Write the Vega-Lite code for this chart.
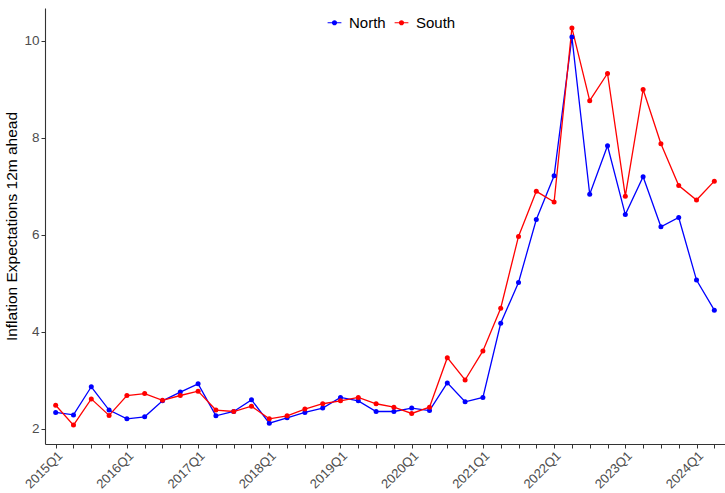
{
  "$schema": "https://vega.github.io/schema/vega-lite/v6.json",
  "autosize": {"type": "none"},
  "width": 680,
  "height": 436,
  "padding": {"left": 45, "top": 8, "right": 0, "bottom": 49},
  "background": "white",
  "config": {
    "view": {"stroke": null},
    "font": "Liberation Sans"
  },
  "data": {
    "values": [
      {"q": "2015Q1", "region": "North", "value": 2.34}, {"q": "2015Q1", "region": "South", "value": 2.49},
      {"q": "2015Q2", "region": "North", "value": 2.29}, {"q": "2015Q2", "region": "South", "value": 2.08},
      {"q": "2015Q3", "region": "North", "value": 2.87}, {"q": "2015Q3", "region": "South", "value": 2.62},
      {"q": "2015Q4", "region": "North", "value": 2.39}, {"q": "2015Q4", "region": "South", "value": 2.28},
      {"q": "2016Q1", "region": "North", "value": 2.21}, {"q": "2016Q1", "region": "South", "value": 2.69},
      {"q": "2016Q2", "region": "North", "value": 2.25}, {"q": "2016Q2", "region": "South", "value": 2.73},
      {"q": "2016Q3", "region": "North", "value": 2.58}, {"q": "2016Q3", "region": "South", "value": 2.59},
      {"q": "2016Q4", "region": "North", "value": 2.76}, {"q": "2016Q4", "region": "South", "value": 2.69},
      {"q": "2017Q1", "region": "North", "value": 2.93}, {"q": "2017Q1", "region": "South", "value": 2.78},
      {"q": "2017Q2", "region": "North", "value": 2.27}, {"q": "2017Q2", "region": "South", "value": 2.39},
      {"q": "2017Q3", "region": "North", "value": 2.36}, {"q": "2017Q3", "region": "South", "value": 2.36},
      {"q": "2017Q4", "region": "North", "value": 2.60}, {"q": "2017Q4", "region": "South", "value": 2.47},
      {"q": "2018Q1", "region": "North", "value": 2.12}, {"q": "2018Q1", "region": "South", "value": 2.21},
      {"q": "2018Q2", "region": "North", "value": 2.23}, {"q": "2018Q2", "region": "South", "value": 2.27},
      {"q": "2018Q3", "region": "North", "value": 2.34}, {"q": "2018Q3", "region": "South", "value": 2.41},
      {"q": "2018Q4", "region": "North", "value": 2.43}, {"q": "2018Q4", "region": "South", "value": 2.52},
      {"q": "2019Q1", "region": "North", "value": 2.65}, {"q": "2019Q1", "region": "South", "value": 2.58},
      {"q": "2019Q2", "region": "North", "value": 2.58}, {"q": "2019Q2", "region": "South", "value": 2.65},
      {"q": "2019Q3", "region": "North", "value": 2.36}, {"q": "2019Q3", "region": "South", "value": 2.52},
      {"q": "2019Q4", "region": "North", "value": 2.36}, {"q": "2019Q4", "region": "South", "value": 2.45},
      {"q": "2020Q1", "region": "North", "value": 2.43}, {"q": "2020Q1", "region": "South", "value": 2.32},
      {"q": "2020Q2", "region": "North", "value": 2.38}, {"q": "2020Q2", "region": "South", "value": 2.45},
      {"q": "2020Q3", "region": "North", "value": 2.95}, {"q": "2020Q3", "region": "South", "value": 3.47},
      {"q": "2020Q4", "region": "North", "value": 2.56}, {"q": "2020Q4", "region": "South", "value": 3.01},
      {"q": "2021Q1", "region": "North", "value": 2.65}, {"q": "2021Q1", "region": "South", "value": 3.61},
      {"q": "2021Q2", "region": "North", "value": 4.18}, {"q": "2021Q2", "region": "South", "value": 4.49},
      {"q": "2021Q3", "region": "North", "value": 5.02}, {"q": "2021Q3", "region": "South", "value": 5.97},
      {"q": "2021Q4", "region": "North", "value": 6.32}, {"q": "2021Q4", "region": "South", "value": 6.90},
      {"q": "2022Q1", "region": "North", "value": 7.22}, {"q": "2022Q1", "region": "South", "value": 6.68},
      {"q": "2022Q2", "region": "North", "value": 10.08}, {"q": "2022Q2", "region": "South", "value": 10.27},
      {"q": "2022Q3", "region": "North", "value": 6.84}, {"q": "2022Q3", "region": "South", "value": 8.77},
      {"q": "2022Q4", "region": "North", "value": 7.84}, {"q": "2022Q4", "region": "South", "value": 9.33},
      {"q": "2023Q1", "region": "North", "value": 6.42}, {"q": "2023Q1", "region": "South", "value": 6.80},
      {"q": "2023Q2", "region": "North", "value": 7.20}, {"q": "2023Q2", "region": "South", "value": 9.00},
      {"q": "2023Q3", "region": "North", "value": 6.17}, {"q": "2023Q3", "region": "South", "value": 7.88},
      {"q": "2023Q4", "region": "North", "value": 6.36}, {"q": "2023Q4", "region": "South", "value": 7.02},
      {"q": "2024Q1", "region": "North", "value": 5.07}, {"q": "2024Q1", "region": "South", "value": 6.72},
      {"q": "2024Q2", "region": "North", "value": 4.45}, {"q": "2024Q2", "region": "South", "value": 7.11}
    ]
  },
  "encoding": {
    "x": {
      "field": "q",
      "type": "ordinal",
      "scale": {"type": "point", "padding": 0.6},
      "axis": {
        "title": null,
        "labelExpr": "indexof(datum.value, 'Q1') > 0 ? datum.value : ''",
        "labelAngle": -45,
        "labelAlign": "right",
        "labelBaseline": "top",
        "labelOverlap": false,
        "labelFontSize": 13,
        "labelColor": "#4d4d4d",
        "labelPadding": 1,
        "domainColor": "#333333",
        "domainWidth": 1.1,
        "tickColor": "#333333",
        "tickSize": 4,
        "grid": false
      }
    },
    "y": {
      "field": "value",
      "type": "quantitative",
      "scale": {"domain": [1.69, 10.68], "nice": false, "zero": false},
      "axis": {
        "title": "Inflation Expectations 12m ahead",
        "titleFontSize": 15.5,
        "titleFontWeight": "normal",
        "titleColor": "#000000",
        "titlePadding": 4,
        "values": [2, 4, 6, 8, 10],
        "labelFontSize": 13.5,
        "labelColor": "#4d4d4d",
        "labelPadding": 2,
        "domainColor": "#333333",
        "domainWidth": 1.1,
        "tickColor": "#333333",
        "tickSize": 4,
        "grid": false
      }
    },
    "color": {
      "field": "region",
      "type": "nominal",
      "scale": {"domain": ["North", "South"], "range": ["#0000FF", "#FF0000"]},
      "legend": {
        "title": null,
        "orient": "none",
        "direction": "horizontal",
        "legendX": 282,
        "legendY": 7,
        "labelFontSize": 15,
        "labelColor": "#000000",
        "labelOffset": 7,
        "columnPadding": 8,
        "symbolType": "M-1,-0.09H1V0.09H-1Z M-0.38,0A0.38,0.38,0,1,1,0.38,0A0.38,0.38,0,1,1,-0.38,0Z",
        "symbolSize": 190,
        "symbolStrokeWidth": 0,
        "encode": {
          "symbols": {"update": {"fill": {"scale": "color", "field": "value"}, "fillOpacity": {"value": 1}, "strokeWidth": {"value": 0}}}
        }
      }
    }
  },
  "layer": [
    {"mark": {"type": "line", "strokeWidth": 1.3}},
    {"mark": {"type": "point", "filled": true, "size": 25, "opacity": 1}}
  ]
}
